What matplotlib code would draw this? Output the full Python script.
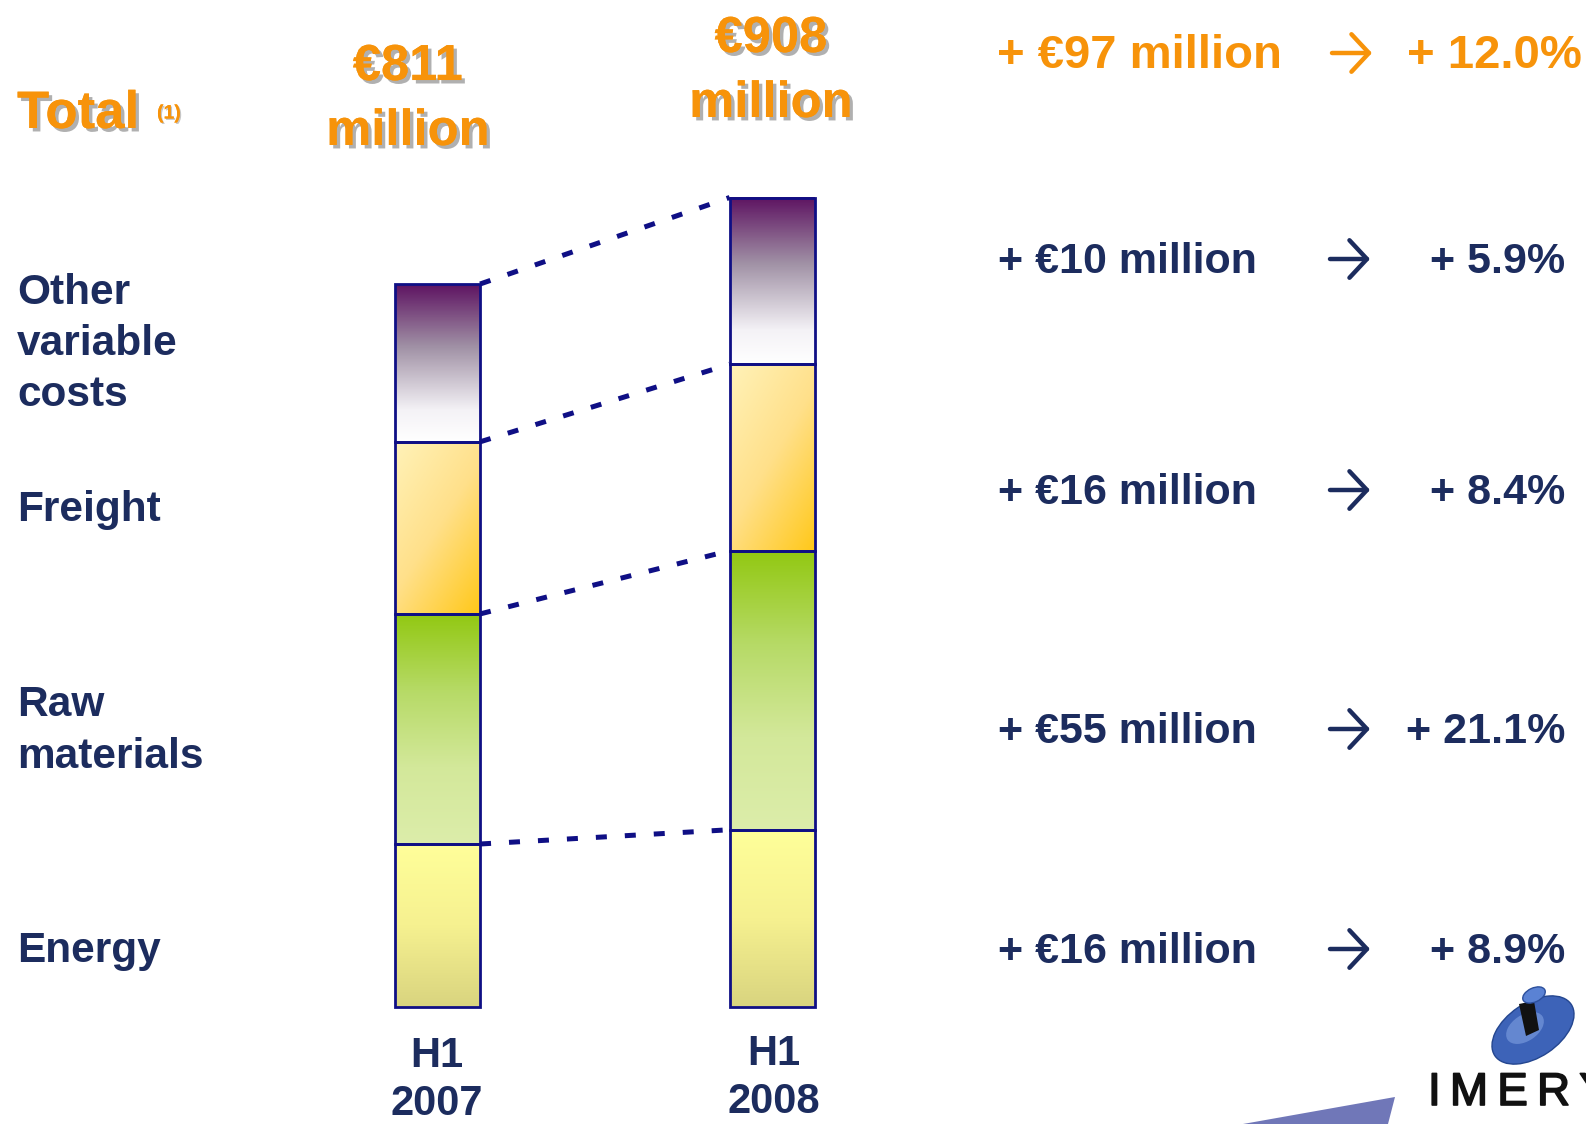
import numpy as np
import matplotlib.pyplot as plt
from matplotlib.colors import LinearSegmentedColormap
from matplotlib.patches import Rectangle, Ellipse, Polygon
import matplotlib.patheffects as pe

periods = ['H1\n2007', 'H1\n2008']
categories = ['Energy', 'Raw\nmaterials', 'Freight', 'Other\nvariable\ncosts']
costs_2007 = [183, 258, 193, 177]
costs_2008 = [199, 313, 209, 187]
totals = ['€811\nmillion', '€908\nmillion']
changes = ['+ €16 million', '+ €55 million', '+ €16 million', '+ €10 million']
growth = ['+ 8.9%', '+ 21.1%', '+ 8.4%', '+ 5.9%']
total_change = '+ €97 million'
total_growth = '+ 12.0%'

W, H = 1586, 1124
NAVY = '#1c2c5e'
ORANGE = '#f7930a'
EDGE = '#0f0f85'
FONT = 'Liberation Sans'

fig = plt.figure(figsize=(W / 100, H / 100), dpi=100)
ax = fig.add_axes([0, 0, 1, 1])
ax.set_axis_off()

# segment gradients, top colour first
cmaps = [
    LinearSegmentedColormap.from_list('energy', ['#ffff9a', '#f6f190', '#d9d47f']),
    LinearSegmentedColormap.from_list('raw', ['#92c812', '#b6da66', '#d3e89a', '#dcedaa']),
    LinearSegmentedColormap.from_list('freight', ['#fff2b8', '#ffe08a', '#ffc81a']),
    LinearSegmentedColormap.from_list('other', [(0, '#5e1462'), (0.4, '#a192a6'),
                                                (0.8, '#f4f2f6'), (1, '#ffffff')]),
]

x = np.arange(len(periods))
width = 0.254
data = np.array([costs_2007, costs_2008])
tops = np.cumsum(data, axis=1)
bottoms = tops - data

for i in range(len(periods)):
    for j in range(len(categories)):
        left, right = x[i] - width / 2, x[i] + width / 2
        b, t = bottoms[i, j], tops[i, j]
        if j == 2:
            # diagonal gradient for freight
            gx, gy = np.meshgrid(np.linspace(0, 1, 60), np.linspace(0, 1, 120))
            grad = (gx * 0.6 + gy * 0.8) / 1.4
        else:
            grad = np.linspace(0, 1, 200)[:, None] * np.ones((1, 2))
        ax.imshow(grad, cmap=cmaps[j], extent=(left, right, b, t), origin='upper',
                  aspect='auto', interpolation='bilinear', zorder=1)
        ax.add_patch(Rectangle((left, b), width, t - b, fill=False,
                               edgecolor=EDGE, linewidth=2.0, zorder=3))

# dotted connectors between segment tops
for j in range(len(categories)):
    ax.plot([x[0] + width / 2, x[1] - width / 2], [tops[0, j], tops[1, j]],
            color=EDGE, linewidth=3.6, linestyle=(0, (2.2, 3.6)), zorder=2)

ax.set_xlim(-1.308, 3.433)
ax.set_ylim(-131, 1129.5)


def fpos(px, py):
    return px / W, 1 - py / H


shadow = [pe.withSimplePatchShadow(offset=(2.5, -2.5), shadow_rgbFace='#a8a8a8', alpha=0.9),
          pe.Normal()]
small_shadow = [pe.withSimplePatchShadow(offset=(1, -1), shadow_rgbFace='#b8b8b8', alpha=0.8),
                pe.Normal()]

# overlay in pixel units for arrows and logo
lax = fig.add_axes([0, 0, 1, 1])
lax.set_xlim(0, W)
lax.set_ylim(H, 0)
lax.set_axis_off()


def arrow(cx, cy, color):
    lax.annotate('', xy=(cx + 20, cy), xytext=(cx - 20, cy),
                 arrowprops=dict(arrowstyle='->,head_length=0.42,head_width=0.45',
                                 lw=3.2, color=color, mutation_scale=30,
                                 shrinkA=0, shrinkB=0))


# header
fig.text(*fpos(17, 114), 'Total', color=ORANGE, fontsize=38, fontweight='bold',
         family=FONT, va='center', ha='left', path_effects=shadow)
fig.text(*fpos(157, 114), '(1)', color=ORANGE, fontsize=14, fontweight='bold',
         family=FONT, va='center', ha='left', path_effects=small_shadow)
total_pos = [(408, 99), (771, 71)]
for (px, py), s in zip(total_pos, totals):
    fig.text(*fpos(px, py), s, color=ORANGE, fontsize=36.5, fontweight='bold',
             family=FONT, va='center', ha='center', linespacing=1.42,
             path_effects=shadow)

fig.text(*fpos(997, 56), total_change, color=ORANGE, fontsize=34, fontweight='bold',
         family=FONT, va='center', ha='left')
arrow(1352, 53, ORANGE)
fig.text(*fpos(1582, 56), total_growth, color=ORANGE, fontsize=34, fontweight='bold',
         family=FONT, va='center', ha='right')

# category labels on the left
label_pos = [951, 731, 510, 344]
for py, s in zip(label_pos, categories):
    fig.text(*fpos(17, py), s, color=NAVY, fontsize=30.5, fontweight='bold',
             family=FONT, va='center', ha='left', linespacing=1.36)

# per-category changes on the right
row_pos = [952, 732, 493, 262]
for py, c, g in zip(row_pos, changes, growth):
    fig.text(*fpos(998, py), c, color=NAVY, fontsize=31, fontweight='bold',
             family=FONT, va='center', ha='left')
    arrow(1350, py - 3, NAVY)
    fig.text(*fpos(1565, py), g, color=NAVY, fontsize=31, fontweight='bold',
             family=FONT, va='center', ha='right')

# period labels under the bars
period_pos = [(437, 1080), (774, 1078)]
for (px, py), s in zip(period_pos, periods):
    fig.text(*fpos(px, py), s, color=NAVY, fontsize=30, fontweight='bold',
             family=FONT, va='center', ha='center', linespacing=1.24)

# corner logo
lax.add_patch(Polygon([(1243, 1124), (1395, 1097), (1388, 1124)], closed=True,
                      facecolor='#7077b8', edgecolor='none'))
lax.add_patch(Ellipse((1533, 1030), 92, 54, angle=-34, facecolor='#3d63b8',
                      edgecolor='#24468f', linewidth=1))
lax.add_patch(Ellipse((1525, 1028), 42, 26, angle=-34, facecolor='#86a6e4',
                      edgecolor='none', alpha=0.55))
lax.add_patch(Polygon([(1519, 1004), (1534, 1001), (1539, 1030), (1526, 1036)],
                      closed=True, facecolor='#111111', edgecolor='none'))
lax.add_patch(Ellipse((1534, 995), 24, 14, angle=-25, facecolor='#5a82d4',
                      edgecolor='#2c4f9c', linewidth=1))
lax.text(1428, 1093, 'I\u2009M\u2009E\u2009R\u2009Y\u2009S', color='#111111', fontsize=33,
         family=FONT, va='center', ha='left', clip_on=True,
         path_effects=[pe.withStroke(linewidth=1.2, foreground='#111111')])

fig.savefig('out.png', dpi=100)
